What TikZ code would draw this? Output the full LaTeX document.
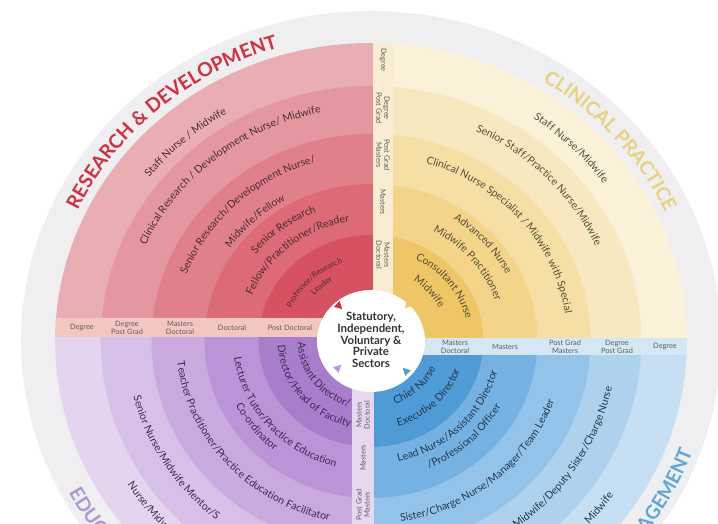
\documentclass[tikz,border=0pt]{standalone}
\usepackage{fontspec}
\setmainfont{Lato}
\usetikzlibrary{decorations.text}

\definecolor{greyring}{HTML}{EFEFF1}
\definecolor{rd1}{HTML}{E9AEB3}
\definecolor{rd2}{HTML}{E597A0}
\definecolor{rd3}{HTML}{E0808B}
\definecolor{rd4}{HTML}{DC6A77}
\definecolor{rd5}{HTML}{D65262}
\definecolor{yl1}{HTML}{FAF1D8}
\definecolor{yl2}{HTML}{F8E8BF}
\definecolor{yl3}{HTML}{F6DFA4}
\definecolor{yl4}{HTML}{F3D488}
\definecolor{yl5}{HTML}{EEC666}
\definecolor{bu1}{HTML}{C6DFF2}
\definecolor{bu2}{HTML}{AED2EE}
\definecolor{bu3}{HTML}{93C3E8}
\definecolor{bu4}{HTML}{76B2E1}
\definecolor{bu5}{HTML}{4F9BD6}
\definecolor{pu1}{HTML}{E4D4EE}
\definecolor{pu2}{HTML}{D6C0E7}
\definecolor{pu3}{HTML}{C8AADF}
\definecolor{pu4}{HTML}{B994D6}
\definecolor{pu5}{HTML}{A87ECC}
\definecolor{rdband}{HTML}{F4C6C0}
\definecolor{ylband}{HTML}{F8ECD2}
\definecolor{buband}{HTML}{D4E7F5}
\definecolor{puband}{HTML}{E8D8EF}
\definecolor{bandtext}{HTML}{5E5E5E}
\definecolor{rdtext}{HTML}{4A2C33}
\definecolor{yltext}{HTML}{574C3A}
\definecolor{butext}{HTML}{22384F}
\definecolor{putext}{HTML}{3B2A57}
\definecolor{rdhead}{HTML}{D0303F}
\definecolor{ylhead}{HTML}{E8D27F}
\definecolor{buhead}{HTML}{5FA6D9}
\definecolor{puhead}{HTML}{AE98CE}
\definecolor{hubtext}{HTML}{333333}

\tikzset{
% Small labels in the four bands, and the text in the middle
band label/.style={font=\fontsize{4.2}{4.6}\selectfont,text=bandtext,align=center,inner sep=0pt},
hub text/.style={font=\fontsize{6.5}{6.6}\selectfont\bfseries,text=hubtext,align=center,inner sep=0pt}
}
\newcommand{\rolefont}{\fontsize{6}{7}\selectfont}
\newcommand{\smallrole}{\fontsize{4.6}{5}\selectfont}
\newcommand{\headfont}{\fontsize{11}{12}\selectfont\bfseries}
% text on a ring: [align]{radius}{from angle}{to angle}{format}{text}
\newcommand{\ringtext}[6][center]{%
\path[decorate,decoration={text along path,text align=#1,text={|#5|#6}}]
  ({1.06*#2*cos(#3)},{#2*sin(#3)}) arc[start angle=#3,end angle=#4,x radius={1.06*#2},y radius=#2];}

\begin{document}
\begin{tikzpicture}[x=0.02cm,y=0.02cm]
\useasboundingbox (-371,-183) rectangle (347,341);
\clip (-371,-183) rectangle (347,341);
\fill[white] (-371,-183) rectangle (347,341);
\fill[greyring] (0,0) ellipse[x radius=350,y radius=330];

% the four quarters
\begin{scope}
\clip (-400,23) rectangle (2,400);
\foreach \r [count=\i] in {298,255,207,157,106}
  \fill[rd\i] (0,0) ellipse[x radius={1.06*\r},y radius=\r];
\end{scope}
\begin{scope}
\clip (22,3) rectangle (400,400);
\foreach \r [count=\i] in {298,255,207,157,106}
  \fill[yl\i] (0,0) ellipse[x radius={1.06*\r},y radius=\r];
\end{scope}
\begin{scope}
\clip (3,-14) rectangle (400,-400);
\foreach \r [count=\i] in {298,255,207,157,106}
  \fill[bu\i] (0,0) ellipse[x radius={1.06*\r},y radius=\r];
\end{scope}
\begin{scope}
\clip (-400,4) rectangle (-19,-400);
\foreach \r [count=\i] in {298,255,207,157,106}
  \fill[pu\i] (0,0) ellipse[x radius={1.06*\r},y radius=\r];
\end{scope}

% bands between the quarters
\begin{scope}
\clip (0,0) ellipse[x radius=316,y radius=298];
\fill[rdband] (-400,4) rectangle (2,23);
\fill[ylband] (2,3) rectangle (22,400);
\fill[buband] (3,-14) rectangle (400,3);
\fill[puband] (-19,-400) rectangle (3,4);
\end{scope}

\foreach \x/\t [count=\i] in {-289/Degree,-244/{Degree\\Post Grad},-191/{Masters\\Doctoral},-139/Doctoral,-81/Post Doctoral}
  \node[band label] (lb\i) at (\x,13.5) {\t};
\foreach \y/\t [count=\i] in {281/Degree,233/{Degree\\Post Grad},186/{Post Grad\\Masters},139/Masters,86/{Masters\\Doctoral}}
  \node[band label,rotate=-90] (tb\i) at (12,\y) {\t};
\foreach \x/\t [count=\i] in {84/{Masters\\Doctoral},134/Masters,194/{Post Grad\\Masters},246/{Degree\\Post Grad},294/Degree}
  \node[band label] (rb\i) at (\x,-5.5) {\t};
\foreach \y/\t [count=\i] in {-74/{Masters\\Doctoral},-117/Masters,-164/{Post Grad\\Masters}}
  \node[band label,rotate=90] (bb\i) at (-8,\y) {\t};

% hub
\fill[white] (0,0) ellipse[x radius=54,y radius=51];
\node[hub text] (hub) at (0,1) {Statutory,\\Independent,\\Voluntary \&\\Private\\Sectors};
\fill[rdhead,shift={(-32,35)},rotate=-45] (4.5,0) -- (-3,4) -- (-3,-4) -- cycle;
\fill[yl5,shift={(37,36)},rotate=225] (4.5,0) -- (-3,4) -- (-3,-4) -- cycle;
\fill[pu4,shift={(-33,-27)},rotate=45] (4.5,0) -- (-3,4) -- (-3,-4) -- cycle;
\fill[bu5,shift={(35,-30)},rotate=135] (4.5,0) -- (-3,4) -- (-3,-4) -- cycle;

% research & development
\ringtext{306}{212}{52}{\headfont\color{rdhead}}{RESEARCH {\&} DEVELOPMENT}
\ringtext{265}{213}{53}{\rolefont\color{rdtext}}{Staff Nurse / Midwife}
\ringtext{233}{210}{50}{\rolefont\color{rdtext}}{Clinical Research / Development Nurse/ Midwife}
\ringtext{186}{214}{54}{\rolefont\color{rdtext}}{Senior Research/Development Nurse/}
\ringtext{162}{214}{54}{\rolefont\color{rdtext}}{Midwife/Fellow}
\ringtext{139}{208}{48}{\rolefont\color{rdtext}}{Senior Research}
\ringtext{121}{210}{50}{\rolefont\color{rdtext}}{Fellow/Practitioner/Reader}
\ringtext{82}{214}{54}{\smallrole\color{rdtext}}{Professor/Research}
\ringtext{70}{212}{52}{\smallrole\color{rdtext}}{Leader}

% clinical practice
\ringtext{306}{120}{-40}{\headfont\color{ylhead}}{CLINICAL PRACTICE}
\ringtext{270}{124}{-36}{\rolefont\color{yltext}}{Staff Nurse/Midwife}
\ringtext{232}{123}{-37}{\rolefont\color{yltext}}{Senior Staff/Practice Nurse/Midwife}
\ringtext{185}{120}{-40}{\rolefont\color{yltext}}{Clinical Nurse Specialist / Midwife with Special}
\ringtext{144}{121}{-39}{\rolefont\color{yltext}}{Advanced Nurse}
\ringtext{124}{119}{-41}{\rolefont\color{yltext}}{Midwife Practitioner}
\ringtext{92}{117}{-43}{\rolefont\color{yltext}}{Consultant Nurse}
\ringtext{72}{120}{-40}{\rolefont\color{yltext}}{Midwife}

% management
\ringtext[right]{323}{-150}{-20}{\headfont\color{buhead}}{MANAGEMENT}
\ringtext{67}{-126}{34}{\rolefont\color{butext}}{Chief Nurse}
\ringtext{89}{-125}{35}{\rolefont\color{butext}}{Executive Director}
\ringtext{123}{-125}{35}{\rolefont\color{butext}}{Lead Nurse/Assistant Director}
\ringtext{139}{-126}{34}{\rolefont\color{butext}}{/Professional Officer}
\ringtext{183}{-129}{31}{\rolefont\color{butext}}{Sister/Charge Nurse/Manager/Team Leader}
\ringtext[right]{232}{-150}{-11.5}{\rolefont\color{butext}}{Midwife/Deputy Sister/Charge Nurse}
\ringtext[right]{276}{-150}{-34}{\rolefont\color{butext}}{Midwife}

% education
\ringtext[left]{323}{208}{330}{\headfont\color{puhead}}{EDUCATION}
\ringtext{69}{136}{296}{\rolefont\color{putext}}{Assistant Director/}
\ringtext{88}{139}{299}{\rolefont\color{putext}}{Director/Head of Faculty}
\ringtext{130}{140}{300}{\rolefont\color{putext}}{Lecturer Tutor/Practice Education}
\ringtext{143}{137}{297}{\rolefont\color{putext}}{Co-ordinator}
\ringtext{184}{141}{301}{\rolefont\color{putext}}{Teacher Practitioner/Practice Education Facilitator}
\ringtext[left]{231}{194}{330}{\rolefont\color{putext}}{Senior Nurse/Midwife Mentor/S}
\ringtext[left]{271}{212}{330}{\rolefont\color{putext}}{Nurse/Midwife}
\end{tikzpicture}
\end{document}
